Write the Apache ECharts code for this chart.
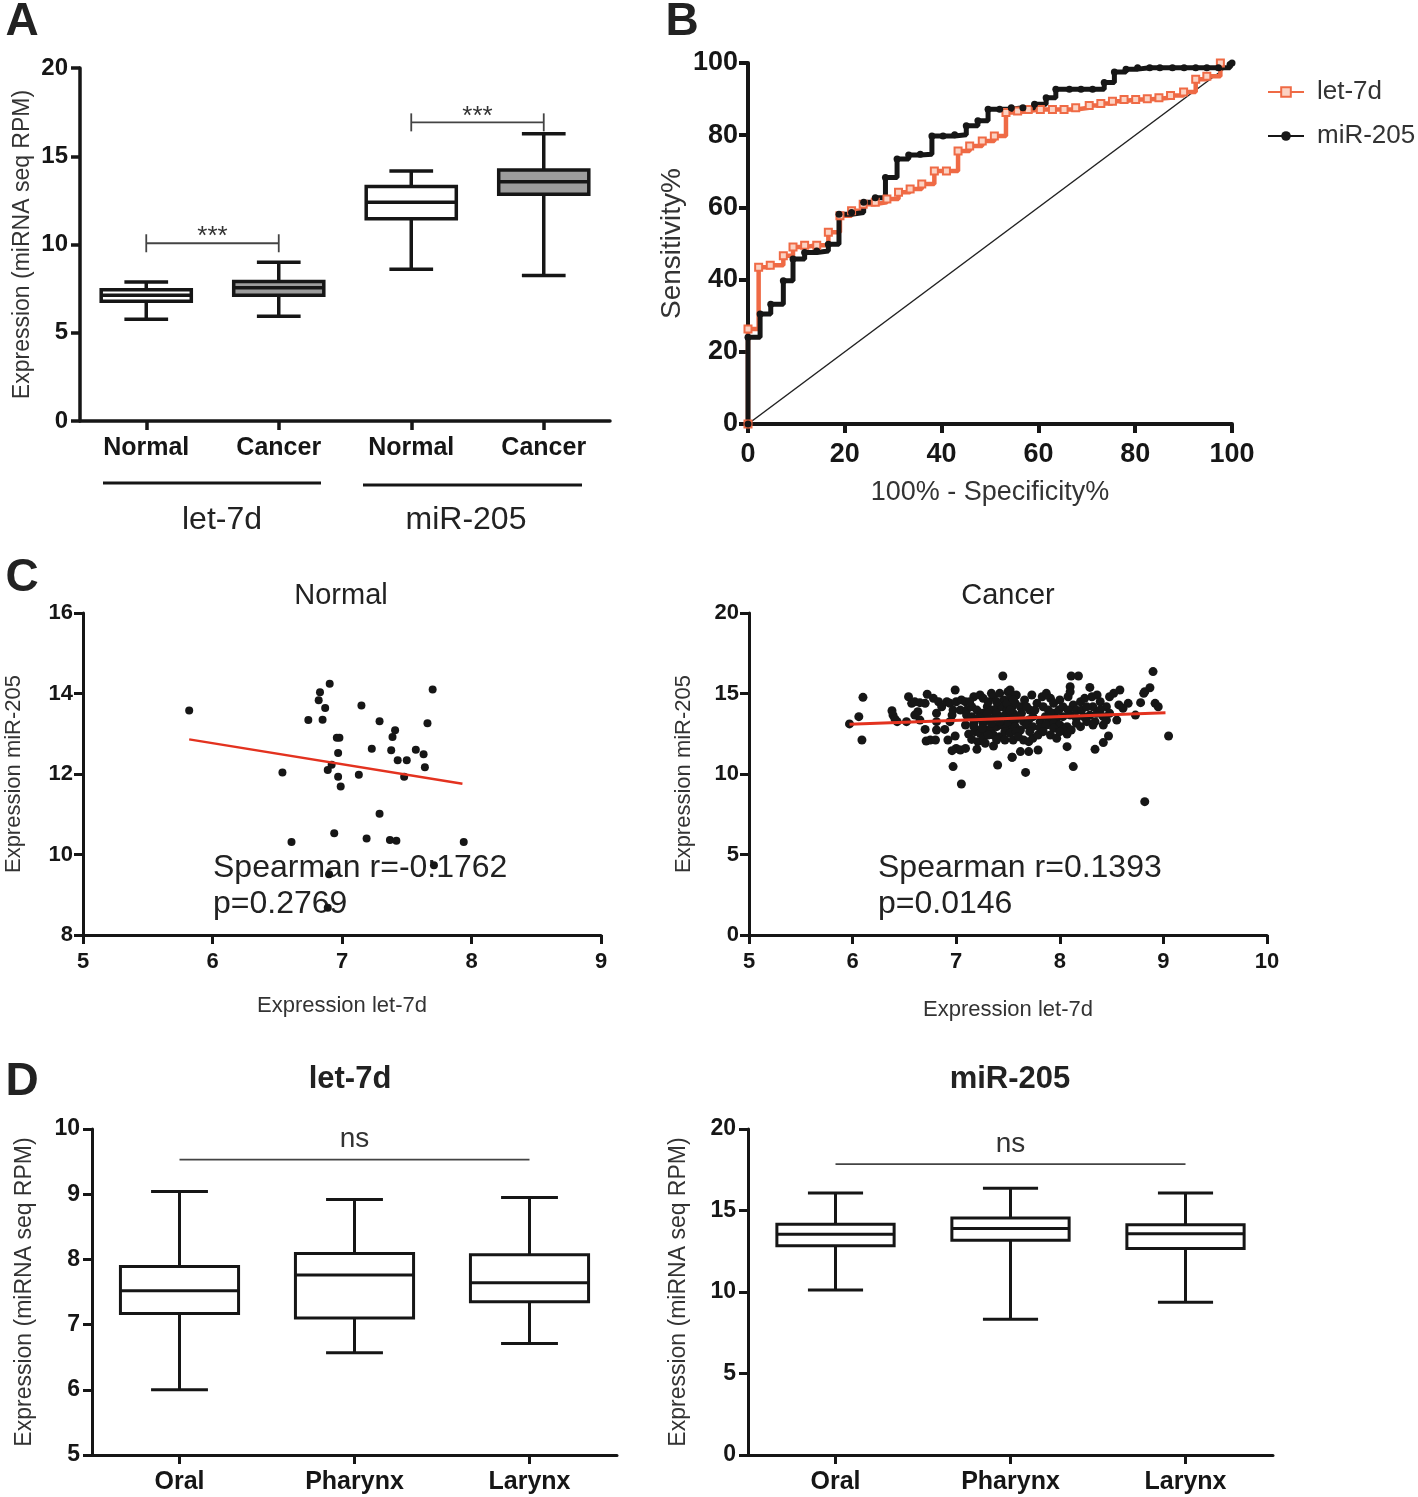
<!DOCTYPE html>
<html>
<head>
<meta charset="utf-8">
<script src="https://cdn.jsdelivr.net/npm/echarts@6/dist/echarts.min.js"></script>
<style>
  html, body { margin: 0; padding: 0; background: #fff; }
  #chart { width: 1418px; height: 1497px; }
</style>
</head>
<body>
<div id="chart"></div>
<script>
// ---------- panel A : expression boxes ----------
const aCategories = ['Normal', 'Cancer', 'Normal', 'Cancer'];
const aMin    = [5.76, 5.94, 8.60, 8.24];
const aQ1     = [6.79, 7.13, 11.46, 12.85];
const aMedian = [7.13, 7.55, 12.39, 13.56];
const aQ3     = [7.43, 7.90, 13.29, 14.22];
const aMax    = [7.88, 9.00, 14.16, 16.27];
const aShaded = [false, true, false, true];
const aSigPairs = [[0, 1, 10.07], [2, 3, 16.92]];
const aSigLabels = ['***', '***'];

// ---------- panel B : ROC curves (100% - specificity, sensitivity) ----------
const rocLet7d = [[0,0],[0,26.3],[2.2,43.4],[4.6,44.0],[7.3,46.6],[9.3,49.0],[11.7,49.5],[14.2,49.5],[16.6,53.1],
  [19.0,57.7],[21.4,59.1],[23.8,60.9],[26.3,61.4],[28.7,62.3],[31.1,64.2],[33.5,65.1],[35.9,66.5],[38.5,70.1],
  [41.0,70.1],[43.4,75.6],[45.8,77.0],[48.4,78.4],[50.9,79.8],[53.3,86.3],[55.7,86.7],[57.9,87.1],[60.4,87.1],
  [62.9,87.1],[65.3,87.1],[67.7,87.6],[70.5,88.2],[72.9,88.8],[75.3,89.4],[77.7,89.9],[80.1,89.9],[82.5,90.1],
  [84.9,90.4],[87.3,91.0],[90.0,92.0],[92.5,95.5],[94.8,96.3],[97.6,100]];
const rocMir205 = [[0,0],[0,24.0],[2.5,30.5],[4.7,33.2],[7.3,39.7],[9.3,45.7],[11.7,47.5],[14.2,47.9],[16.6,49.8],
  [18.8,58.1],[21.4,58.6],[23.9,61.4],[26.3,62.7],[28.4,68.3],[30.8,73.4],[33.2,74.5],[35.6,74.7],[38.0,79.8],
  [40.3,79.8],[42.7,80.1],[45.1,82.6],[47.5,84.0],[49.6,87.2],[52.0,87.2],[54.4,87.6],[56.8,87.6],[59.2,88.6],
  [61.6,90.4],[63.6,92.7],[66.4,92.7],[68.8,92.7],[71.2,92.7],[73.6,94.6],[75.7,97.5],[78.1,98.3],[80.5,98.7],
  [83.0,98.7],[85.1,98.7],[87.7,98.7],[90.1,98.7],[92.5,98.7],[94.8,98.7],[97.2,98.7],[99.6,99.6],[100,100]];
const rocChance = [[0,0],[100,100]];

// ---------- panel C : let-7d vs miR-205 ----------
const normalX = [5.82,6.905,6.83,6.82,6.87,6.74,6.85,7.70,7.15,7.29,7.41,7.39,6.96,6.98,7.66,7.23,7.38,6.97,7.57,7.63,
  7.43,7.50,7.64,6.92,6.89,6.54,7.13,6.97,7.48,6.99,7.29,6.94,6.61,7.19,7.37,7.42,7.94,7.71,6.90,6.89];
const normalY = [13.58,14.24,14.03,13.83,13.64,13.34,13.35,14.10,13.70,13.31,13.09,12.92,12.90,12.90,13.26,12.63,12.59,12.52,12.60,12.49,
  12.34,12.34,12.17,12.23,12.10,12.04,11.98,11.93,11.93,11.69,11.01,10.53,10.31,10.40,10.36,10.34,10.31,9.73,9.51,8.68];
const normalFit = [[5.82, 12.86], [7.93, 11.76]];

const cancerX = [6.10,6.06,6.09,5.97,6.38,6.39,6.43,6.52,6.54,6.57,6.60,6.65,6.63,6.60,6.65,6.72,6.70,6.78,6.83,6.81,
  6.86,6.91,6.94,6.99,7.00,7.05,7.09,6.97,6.96,7.04,7.10,7.17,7.23,7.26,7.34,7.36,7.42,7.46,7.50,7.52,
  7.15,7.20,7.25,7.30,7.34,7.39,7.44,7.49,7.54,7.10,7.15,7.21,7.26,7.31,7.36,7.42,7.47,7.52,6.70,6.81,
  6.89,6.71,6.75,6.80,6.92,6.99,7.00,7.04,7.09,6.96,7.12,7.15,7.18,7.23,7.21,7.26,7.30,7.34,7.39,7.44,
  7.49,7.54,7.36,7.42,7.47,7.52,7.20,7.36,7.47,7.54,6.97,7.05,7.40,7.45,6.41,6.81,6.94,7.09,7.26,7.50,
  7.13,7.31,7.39,7.49,7.55,7.39,7.30,7.17,7.34,7.42,7.17,7.25,7.31,7.39,7.55,7.55,7.57,7.28,
  7.52,7.58,7.57,7.52,7.62,7.66,7.73,7.71,7.78,7.83,7.87,7.91,7.94,8.00,8.08,8.10,8.11,8.18,8.10,8.13,
  8.20,8.24,8.29,8.31,8.36,8.39,8.32,8.48,8.52,8.58,8.45,8.57,8.61,8.66,8.73,8.78,8.81,8.82,8.87,8.90,
  8.92,8.95,7.55,7.60,7.65,7.70,7.74,7.81,7.86,7.91,7.97,8.03,8.10,8.16,8.23,8.29,8.36,8.42,8.48,7.57,
  7.62,7.68,7.74,7.81,7.87,7.94,8.00,8.07,8.16,8.26,8.34,8.45,8.55,7.58,7.65,7.70,7.74,7.79,7.84,8.07,
  7.94,8.03,8.47,8.42,8.34,8.07,7.79,7.70,7.62,7.54,8.13,7.67,8.82,9.05,
  7.55,7.63,7.68,7.76,7.84,7.89,7.94,7.99,8.03,8.08,8.16,8.21,8.26,8.39,8.42,7.91,7.71,7.91,7.97,8.11,
  8.20,7.60,8.32,8.00];
const cancerY = [14.76,13.56,12.11,13.11,13.93,13.66,13.25,13.25,14.80,14.39,14.49,14.43,13.87,13.66,13.35,14.95,14.39,14.70,14.49,13.77,
  14.18,14.49,14.39,15.22,14.49,14.60,14.49,13.97,13.66,13.97,13.97,14.80,14.91,14.70,15.01,14.80,15.01,14.60,15.11,14.70,
  14.18,13.97,13.77,14.18,13.97,14.08,14.18,13.97,14.18,13.66,13.56,13.46,13.56,13.35,13.46,13.56,13.66,13.46,12.77,12.73,
  12.77,12.05,12.11,12.11,12.11,12.36,11.59,11.49,11.59,11.45,12.48,12.15,12.63,12.53,12.01,12.22,12.73,12.84,12.94,13.04,
  12.94,13.04,12.42,12.32,12.63,12.53,11.53,11.74,12.11,11.04,10.46,9.38,10.56,16.09,13.40,13.25,13.25,13.04,13.15,13.25,
  14.49,14.49,14.49,14.39,13.77,13.77,13.77,13.15,13.15,13.25,12.94,12.84,12.42,12.11,12.11,14.60,13.35,11.91,
  15.22,14.91,14.39,13.97,14.18,14.60,14.91,13.97,14.39,14.80,15.01,14.70,14.39,14.60,14.80,15.42,16.09,16.09,15.11,14.29,
  14.49,14.70,15.38,14.80,14.91,14.49,14.18,14.80,15.01,15.22,14.18,14.29,14.08,14.39,13.66,14.43,15.01,15.11,15.36,16.36,
  14.39,14.18,13.46,13.56,13.25,13.35,13.56,13.25,13.56,13.35,13.46,13.56,13.66,13.46,13.56,13.66,13.77,13.56,13.77,12.94,
  12.73,13.04,12.94,12.84,13.04,13.15,13.04,12.94,13.15,13.25,13.25,13.35,13.35,12.63,12.11,12.01,12.22,12.42,12.63,12.48,
  12.84,12.73,12.36,11.95,11.53,11.70,11.49,11.39,11.39,11.04,10.46,10.10,8.28,12.36,
  14.60,13.77,14.18,13.97,14.18,13.97,13.77,13.97,14.18,13.97,13.97,13.97,14.18,13.97,13.04,13.77,12.63,12.42,12.22,12.73,
  12.94,12.32,13.04,12.63];
const cancerFit = [[5.97, 13.09], [9.02, 13.81]];

// ---------- panel D : expression by site ----------
const dCategories = ['Oral', 'Pharynx', 'Larynx'];
const dLetMin    = [6.00, 6.57, 6.71];
const dLetQ1     = [7.17, 7.10, 7.35];
const dLetMedian = [7.52, 7.76, 7.64];
const dLetQ3     = [7.89, 8.09, 8.07];
const dLetMax    = [9.04, 8.92, 8.95];
const dMirMin    = [10.12, 8.33, 9.37];
const dMirQ1     = [12.83, 13.18, 12.67];
const dMirMedian = [13.54, 13.89, 13.58];
const dMirQ3     = [14.15, 14.54, 14.13];
const dMirMax    = [16.07, 16.37, 16.07];
const dLetNs = [[0, 2, 9.53]];
const dMirNs = [[0, 2, 17.84]];

// ---------- helpers ----------
const FONT = "'Liberation Sans', Arial, sans-serif";
const INK = '#161616';
const ORANGE = '#ef6a45';

function zip(xs, ys) { return xs.map((x, i) => [x, ys[i]]); }

// whisker box with caps narrower than the box
function boxRenderer(boxFrac, capFrac, lw) {
  return function (params, api) {
    const x = api.value(0);
    const band = api.size([1, 0])[0];
    const hb = band * boxFrac / 2, hc = band * capFrac / 2;
    const pMin = api.coord([x, api.value(1)]);
    const pQ1 = api.coord([x, api.value(2)]);
    const pMed = api.coord([x, api.value(3)]);
    const pQ3 = api.coord([x, api.value(4)]);
    const pMax = api.coord([x, api.value(5)]);
    const cx = pMin[0];
    const seg = (x1, y1, x2, y2) => ({ type: 'line', shape: { x1, y1, x2, y2 }, style: { stroke: INK, lineWidth: lw } });
    return {
      type: 'group',
      children: [
        seg(cx, pMax[1], cx, pQ3[1]),
        seg(cx, pQ1[1], cx, pMin[1]),
        seg(cx - hc, pMax[1], cx + hc, pMax[1]),
        seg(cx - hc, pMin[1], cx + hc, pMin[1]),
        { type: 'rect', shape: { x: cx - hb, y: pQ3[1], width: hb * 2, height: pQ1[1] - pQ3[1] },
          style: { fill: api.visual('color'), stroke: INK, lineWidth: lw } },
        seg(cx - hb, pMed[1], cx + hb, pMed[1])
      ]
    };
  };
}

function bracketRenderer(labels, tick, fontSize, textGap) {
  return function (params, api) {
    const y = api.value(2);
    const p1 = api.coord([api.value(0), y]);
    const p2 = api.coord([api.value(1), y]);
    const st = () => ({ stroke: '#444', lineWidth: 1.8 });
    const children = [{ type: 'line', shape: { x1: p1[0], y1: p1[1], x2: p2[0], y2: p2[1] }, style: st() }];
    if (tick) {
      children.push({ type: 'line', shape: { x1: p1[0], y1: p1[1] - tick, x2: p1[0], y2: p1[1] + tick }, style: st() });
      children.push({ type: 'line', shape: { x1: p2[0], y1: p2[1] - tick, x2: p2[0], y2: p2[1] + tick }, style: st() });
    }
    children.push({ type: 'text', style: { text: labels[params.dataIndex], x: (p1[0] + p2[0]) / 2, y: p1[1] - textGap,
      align: 'center', verticalAlign: 'middle', fontSize: fontSize, fontFamily: FONT, fill: '#333' } });
    return { type: 'group', children: children };
  };
}

function boxData(mins, q1s, meds, q3s, maxs, shaded) {
  return mins.map((m, i) => ({
    value: [i, m, q1s[i], meds[i], q3s[i], maxs[i]],
    itemStyle: { color: shaded && shaded[i] ? '#9c9c9c' : '#ffffff' }
  }));
}

function axis(grid, type, extra, lw) {
  return Object.assign({
    gridIndex: grid,
    type: type,
    axisLine: { show: true, onZero: false, lineStyle: { color: INK, width: lw || 3.5 } },
    axisTick: { show: true, length: 9, alignWithLabel: true, lineStyle: { color: INK, width: lw || 3.5 } },
    splitLine: { show: false },
    nameLocation: 'middle',
    nameTextStyle: { color: '#333', fontFamily: FONT, fontSize: 22 }
  }, extra);
}

function tickLabels(size, margin) {
  return { color: INK, fontSize: size, fontFamily: FONT, fontWeight: 'bold', margin: margin };
}

function textAt(x, y, text, size, weight, align) {
  return { type: 'text', x: x, y: y, style: { text: text, fontSize: size, fontWeight: weight || 'normal',
    fontFamily: FONT, fill: '#222', align: align || 'center', verticalAlign: 'middle' } };
}

// ---------- chart ----------
const chart = echarts.init(document.getElementById('chart'));

const option = {
  backgroundColor: '#ffffff',
  animation: false,
  grid: [
    { left: 80,  top: 68,   width: 530, height: 353 },
    { left: 748, top: 63,   width: 484, height: 361 },
    { left: 83,  top: 613,  width: 518, height: 322 },
    { left: 749, top: 613,  width: 518, height: 322 },
    { left: 92,  top: 1129, width: 525, height: 326 },
    { left: 748, top: 1129, width: 525, height: 326 }
  ],
  xAxis: [
    axis(0, 'category', { data: aCategories, boundaryGap: true, axisLabel: tickLabels(25, 15) }),
    axis(1, 'value', { min: 0, max: 100, interval: 20, name: '100% - Specificity%', nameGap: 55,
      nameTextStyle: { color: '#333', fontFamily: FONT, fontSize: 27 },
      axisLabel: tickLabels(27, 17) }, 4),
    axis(2, 'value', { min: 5, max: 9, interval: 1, name: 'Expression let-7d', nameGap: 60,
      axisLabel: tickLabels(22, 16) }, 3),
    axis(3, 'value', { min: 5, max: 10, interval: 1, name: 'Expression let-7d', nameGap: 64,
      axisLabel: tickLabels(22, 16) }, 3),
    axis(4, 'category', { data: dCategories, boundaryGap: true, axisLabel: tickLabels(25, 15) }, 3),
    axis(5, 'category', { data: dCategories, boundaryGap: true, axisLabel: tickLabels(25, 15) }, 3)
  ],
  yAxis: [
    axis(0, 'value', { min: 0, max: 20, interval: 5, name: 'Expression (miRNA seq RPM)', nameGap: 46,
      nameTextStyle: { color: '#333', fontFamily: FONT, fontSize: 23 }, axisLabel: tickLabels(24, 12) }),
    axis(1, 'value', { min: 0, max: 100, interval: 20, name: 'Sensitivity%', nameGap: 62,
      nameTextStyle: { color: '#333', fontFamily: FONT, fontSize: 28 }, axisLabel: tickLabels(27, 10) }, 4),
    axis(2, 'value', { min: 8, max: 16, interval: 2, name: 'Expression miR-205', nameGap: 58,
      axisLabel: tickLabels(22, 10) }, 3),
    axis(3, 'value', { min: 0, max: 20, interval: 5, name: 'Expression miR-205', nameGap: 54,
      axisLabel: tickLabels(22, 10) }, 3),
    axis(4, 'value', { min: 5, max: 10, interval: 1, name: 'Expression (miRNA seq RPM)', nameGap: 56,
      nameTextStyle: { color: '#333', fontFamily: FONT, fontSize: 23 }, axisLabel: tickLabels(23, 12) }, 3),
    axis(5, 'value', { min: 0, max: 20, interval: 5, name: 'Expression (miRNA seq RPM)', nameGap: 58,
      nameTextStyle: { color: '#333', fontFamily: FONT, fontSize: 23 }, axisLabel: tickLabels(23, 12) }, 3)
  ],
  legend: {
    data: ['let-7d', 'miR-205'],
    orient: 'vertical',
    left: 1262, top: 74,
    itemWidth: 36, itemHeight: 12, itemGap: 18,
    textStyle: { fontSize: 26, fontFamily: FONT, color: '#333', padding: [0, 0, 0, 8] }
  },
  series: [
    // A
    { type: 'custom', xAxisIndex: 0, yAxisIndex: 0, renderItem: boxRenderer(0.68, 0.33, 3.5),
      encode: { x: 0, y: [1, 2, 3, 4, 5] }, clip: false,
      data: boxData(aMin, aQ1, aMedian, aQ3, aMax, aShaded) },
    { type: 'custom', xAxisIndex: 0, yAxisIndex: 0, renderItem: bracketRenderer(aSigLabels, 9, 26, 6),
      encode: { x: [0, 1], y: 2 }, clip: false, data: aSigPairs },
    // B
    { type: 'line', name: 'chance', xAxisIndex: 1, yAxisIndex: 1, data: rocChance, symbol: 'none',
      lineStyle: { color: '#222', width: 1.5 }, silent: true },
    { type: 'line', name: 'let-7d', xAxisIndex: 1, yAxisIndex: 1, data: rocLet7d, step: 'end',
      symbol: 'rect', symbolSize: 7, showAllSymbol: true,
      itemStyle: { color: '#fbd3c4', borderColor: ORANGE, borderWidth: 2 },
      lineStyle: { color: ORANGE, width: 4.5 } },
    { type: 'line', name: 'miR-205', xAxisIndex: 1, yAxisIndex: 1, data: rocMir205, step: 'end',
      symbol: 'circle', symbolSize: 7, showAllSymbol: true,
      itemStyle: { color: INK }, lineStyle: { color: INK, width: 5 } },
    // C
    { type: 'scatter', xAxisIndex: 2, yAxisIndex: 2, data: zip(normalX, normalY), symbolSize: 8,
      itemStyle: { color: INK, opacity: 1 } },
    { type: 'line', xAxisIndex: 2, yAxisIndex: 2, data: normalFit, symbol: 'none', z: 5,
      lineStyle: { color: '#e3321f', width: 2.5 } },
    { type: 'scatter', xAxisIndex: 3, yAxisIndex: 3, data: zip(cancerX, cancerY), symbolSize: 9,
      itemStyle: { color: INK, opacity: 1 } },
    { type: 'line', xAxisIndex: 3, yAxisIndex: 3, data: cancerFit, symbol: 'none', z: 5,
      lineStyle: { color: '#e3321f', width: 3 } },
    // D
    { type: 'custom', xAxisIndex: 4, yAxisIndex: 4, renderItem: boxRenderer(0.675, 0.325, 3),
      encode: { x: 0, y: [1, 2, 3, 4, 5] }, clip: false,
      data: boxData(dLetMin, dLetQ1, dLetMedian, dLetQ3, dLetMax) },
    { type: 'custom', xAxisIndex: 4, yAxisIndex: 4, renderItem: bracketRenderer(['ns'], 0, 28, 20),
      encode: { x: [0, 1], y: 2 }, clip: false, data: dLetNs },
    { type: 'custom', xAxisIndex: 5, yAxisIndex: 5, renderItem: boxRenderer(0.67, 0.315, 3),
      encode: { x: 0, y: [1, 2, 3, 4, 5] }, clip: false,
      data: boxData(dMirMin, dMirQ1, dMirMedian, dMirQ3, dMirMax) },
    { type: 'custom', xAxisIndex: 5, yAxisIndex: 5, renderItem: bracketRenderer(['ns'], 0, 28, 20),
      encode: { x: [0, 1], y: 2 }, clip: false, data: dMirNs }
  ],
  graphic: [
    textAt(22, 22, 'A', 46, 'bold'),
    textAt(682, 22, 'B', 46, 'bold'),
    textAt(22, 578, 'C', 46, 'bold'),
    textAt(22, 1082, 'D', 46, 'bold'),
    { type: 'line', shape: { x1: 103, y1: 483, x2: 321, y2: 483 }, style: { stroke: INK, lineWidth: 3 } },
    { type: 'line', shape: { x1: 363, y1: 485, x2: 582, y2: 485 }, style: { stroke: INK, lineWidth: 3 } },
    textAt(222, 520, 'let-7d', 32),
    textAt(466, 520, 'miR-205', 32),
    textAt(341, 596, 'Normal', 29),
    textAt(1008, 596, 'Cancer', 29),
    textAt(213, 868, 'Spearman r=-0:1762', 32, 'normal', 'left'),
    textAt(213, 904, 'p=0.2769', 32, 'normal', 'left'),
    textAt(878, 868, 'Spearman r=0.1393', 32, 'normal', 'left'),
    textAt(878, 904, 'p=0.0146', 32, 'normal', 'left'),
    textAt(350, 1079, 'let-7d', 31, 'bold'),
    textAt(1010, 1079, 'miR-205', 31, 'bold')
  ]
};

chart.setOption(option);
</script>
</body>
</html>
